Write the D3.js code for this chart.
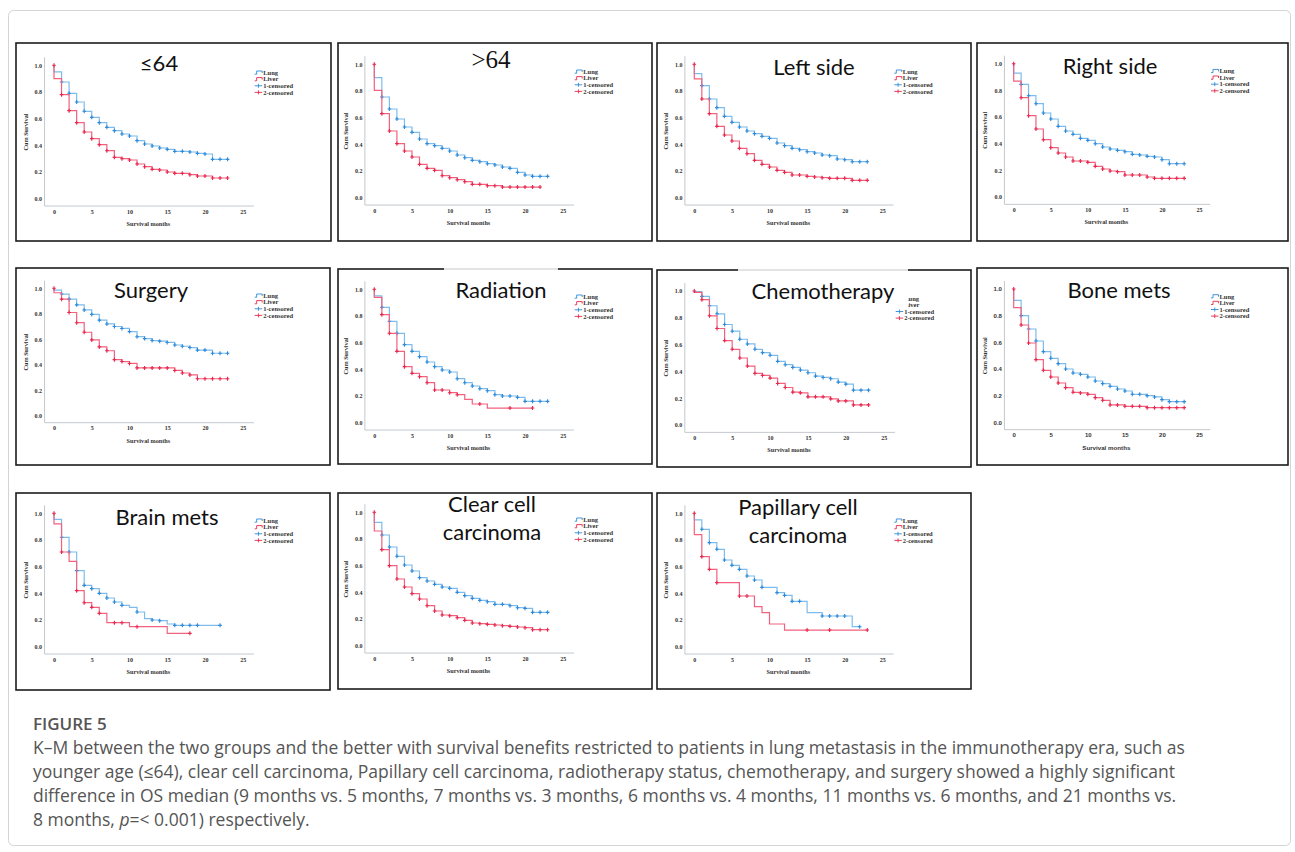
<!DOCTYPE html>
<html>
<head>
<meta charset="utf-8">
<script src="https://cdn.jsdelivr.net/npm/d3@7"></script>
<style>
  body { margin: 0; background: #fff; }
</style>
</head>
<body>
<script>
// survival estimates read per month (index = month), curves start at 1.0
var lungAgeLow = [0.95,0.875,0.79,0.725,0.655,0.61,0.57,0.535,0.51,0.485,0.47,0.435,0.41,0.395,0.38,0.37,0.355,0.355,0.35,0.34,0.335,0.295,0.295,0.295];
var liverAgeLow = [0.90,0.78,0.66,0.57,0.50,0.45,0.405,0.36,0.31,0.30,0.29,0.26,0.24,0.22,0.215,0.20,0.19,0.19,0.18,0.17,0.17,0.155,0.155,0.155];
var lungAgeHigh = [0.90,0.755,0.665,0.59,0.53,0.49,0.44,0.405,0.39,0.37,0.35,0.32,0.30,0.28,0.27,0.255,0.245,0.23,0.22,0.19,0.17,0.16,0.16,0.16];
var liverAgeHigh = [0.805,0.63,0.50,0.405,0.35,0.305,0.25,0.22,0.205,0.165,0.15,0.135,0.12,0.10,0.10,0.09,0.09,0.08,0.08,0.08,0.08,0.08,0.08];
var lungLeft = [0.93,0.84,0.74,0.675,0.61,0.565,0.53,0.50,0.48,0.46,0.445,0.41,0.39,0.37,0.36,0.345,0.335,0.32,0.315,0.29,0.285,0.27,0.27,0.27];
var liverLeft = [0.89,0.74,0.63,0.535,0.47,0.425,0.37,0.33,0.28,0.25,0.23,0.205,0.19,0.17,0.17,0.16,0.155,0.15,0.145,0.145,0.145,0.13,0.13,0.13];
var lungRight = [0.93,0.845,0.76,0.70,0.63,0.585,0.53,0.495,0.47,0.44,0.425,0.40,0.375,0.36,0.35,0.34,0.32,0.315,0.305,0.30,0.28,0.25,0.25,0.25];
var liverRight = [0.87,0.745,0.61,0.51,0.43,0.37,0.33,0.30,0.27,0.27,0.26,0.23,0.21,0.195,0.19,0.165,0.165,0.165,0.15,0.14,0.14,0.14,0.14,0.14];
var lungSurgery = [0.985,0.955,0.915,0.87,0.83,0.795,0.75,0.72,0.70,0.685,0.66,0.62,0.605,0.59,0.585,0.575,0.555,0.545,0.535,0.515,0.515,0.49,0.49,0.49];
var liverSurgery = [0.965,0.915,0.81,0.73,0.655,0.595,0.54,0.51,0.44,0.425,0.41,0.375,0.375,0.375,0.375,0.375,0.355,0.335,0.32,0.29,0.29,0.29,0.29,0.29];
var lungRadiation = [0.95,0.865,0.76,0.67,0.585,0.535,0.495,0.455,0.42,0.395,0.38,0.33,0.30,0.275,0.255,0.24,0.21,0.20,0.20,0.19,0.16,0.16,0.16,0.16];
var liverRadiation = [0.94,0.81,0.67,0.535,0.42,0.37,0.345,0.30,0.245,0.245,0.225,0.21,0.175,0.14,0.14,0.11,0.11,0.11,0.11,0.11,0.11,0.11];
var lungChemo = [0.995,0.96,0.89,0.83,0.75,0.70,0.64,0.605,0.565,0.54,0.52,0.475,0.45,0.43,0.41,0.39,0.365,0.355,0.345,0.32,0.305,0.26,0.26,0.26];
var liverChemo = [0.99,0.935,0.815,0.72,0.63,0.565,0.50,0.44,0.385,0.37,0.35,0.31,0.28,0.245,0.24,0.21,0.21,0.21,0.195,0.18,0.18,0.15,0.15,0.15];
var lungBone = [0.915,0.80,0.70,0.61,0.53,0.48,0.44,0.40,0.37,0.36,0.34,0.31,0.29,0.27,0.25,0.235,0.21,0.21,0.20,0.19,0.17,0.155,0.155,0.155];
var liverBone = [0.86,0.73,0.595,0.47,0.39,0.34,0.295,0.26,0.225,0.22,0.21,0.185,0.165,0.13,0.13,0.12,0.12,0.12,0.11,0.11,0.11,0.11,0.11,0.11];
var lungBrain = [0.955,0.82,0.71,0.57,0.46,0.435,0.40,0.365,0.335,0.31,0.295,0.26,0.21,0.20,0.195,0.17,0.16,0.16,0.16,0.16,0.16,0.16,0.16];
var liverBrain = [0.92,0.71,0.64,0.42,0.33,0.295,0.25,0.18,0.18,0.18,0.15,0.15,0.15,0.15,0.15,0.10,0.10,0.10,0.10];
var lungClear = [0.925,0.83,0.74,0.67,0.605,0.56,0.51,0.485,0.46,0.44,0.43,0.40,0.375,0.355,0.34,0.33,0.31,0.31,0.30,0.285,0.28,0.25,0.25,0.25];
var liverClear = [0.86,0.72,0.60,0.50,0.44,0.39,0.35,0.30,0.26,0.23,0.225,0.21,0.19,0.17,0.165,0.16,0.155,0.15,0.145,0.14,0.135,0.12,0.12,0.12];
var lungPapillary = [0.95,0.88,0.78,0.73,0.65,0.61,0.58,0.53,0.50,0.445,0.445,0.405,0.385,0.34,0.34,0.255,0.255,0.23,0.23,0.23,0.23,0.15,0.15];
var liverPapillary = [0.84,0.675,0.58,0.48,0.48,0.48,0.38,0.38,0.30,0.255,0.17,0.17,0.125,0.125,0.125,0.125,0.125,0.125,0.125,0.125,0.125,0.125,0.125,0.125];

// months with a censor mark, where not every month has one
var censLiverRadiation = [1,2,3,4,5,6,7,8,9,10,11,14,18,21];
var censLungBrain = [1,2,3,4,5,6,7,8,9,11,13,14,16,17,18,19,22];
var censLiverBrain = [1,3,4,5,6,8,9,11,18];
var censLungPapillary = [1,2,3,4,5,6,7,8,9,11,12,13,14,17,18,19,20,22];
var censLiverPapillary = [1,2,3,6,7,15,18,23];

var titles = [["≤64"], [">64"], ["Left side"], ["Right side"], ["Surgery"], ["Radiation"],
  ["Chemotherapy"], ["Bone mets"], ["Brain mets"], ["Clear cell", "carcinoma"], ["Papillary cell", "carcinoma"]];
var xTicks = [0, 5, 10, 15, 20, 25];
var yTicks = [0, 0.2, 0.4, 0.6, 0.8, 1.0];
var legendLabels = ["Lung", "Liver", "1-censored", "2-censored"];
var figureLabel = "FIGURE 5";
var captionLines = [
  "K\u2013M between the two groups and the better with survival benefits restricted to patients in lung metastasis in the immunotherapy era, such as",
  "younger age (\u226464), clear cell carcinoma, Papillary cell carcinoma, radiotherapy status, chemotherapy, and surgery showed a highly significant",
  "difference in OS median (9 months vs. 5 months, 7 months vs. 3 months, 6 months vs. 4 months, 11 months vs. 6 months, and 21 months vs."
];

var series = [
  [lungAgeLow, liverAgeLow, null, null],
  [lungAgeHigh, liverAgeHigh, null, null],
  [lungLeft, liverLeft, null, null],
  [lungRight, liverRight, null, null],
  [lungSurgery, liverSurgery, null, null],
  [lungRadiation, liverRadiation, null, censLiverRadiation],
  [lungChemo, liverChemo, null, null],
  [lungBone, liverBone, null, null],
  [lungBrain, liverBrain, censLungBrain, censLiverBrain],
  [lungClear, liverClear, null, null],
  [lungPapillary, liverPapillary, censLungPapillary, censLiverPapillary]
];

// layout: panel box, pixel of t=0 / t=25, pixel of 1.0 / 0.0, title centre and baselines
var layout = [
  {box: [16, 43, 315, 198], x0: 54, x25: 242.7, y1: 65.3, y0: 198.7, tx: 159, ty: [71.3]},
  {box: [338, 43, 314, 198], x0: 374.3, x25: 562.7, y1: 64.3, y0: 197.7, tx: 491, ty: [68], serif: true},
  {box: [657, 43, 314, 198], x0: 694.3, x25: 882.3, y1: 64.3, y0: 197.7, tx: 814, ty: [75.3]},
  {box: [977, 43, 311, 198], x0: 1013.7, x25: 1199, y1: 63.7, y0: 197, tx: 1110, ty: [74.3]},
  {box: [16, 268, 314, 197], x0: 54, x25: 242.7, y1: 288.3, y0: 415.7, tx: 151, ty: [298.3]},
  {box: [338, 269, 314, 195], x0: 374.3, x25: 562.7, y1: 289.3, y0: 422.7, tx: 501, ty: [298.3], mask: [444, 558, 304]},
  {box: [657, 270, 314, 197], x0: 694.3, x25: 883.7, y1: 291, y0: 425, tx: 823, ty: [299.3], mask: [738, 908, 307]},
  {box: [977, 268, 311, 197], x0: 1013.7, x25: 1199, y1: 289, y0: 422.3, tx: 1119, ty: [297.7], sansAxis: true},
  {box: [16, 493, 314, 197], x0: 54, x25: 242.7, y1: 513.3, y0: 646.7, tx: 167, ty: [525]},
  {box: [338, 493, 314, 196], x0: 374.3, x25: 562.7, y1: 512.3, y0: 645.7, tx: 492, ty: [511.7, 540]},
  {box: [657, 493, 314, 196], x0: 694.3, x25: 882.3, y1: 513.3, y0: 646.7, tx: 798, ty: [515, 543.3]}
];

var lineColors = ["#7dbcec", "#f2627f"];
var markColors = ["#2e8ad8", "#e6284d"];
var smallFont = "'Liberation Serif', 'DejaVu Serif', serif";

var svg = d3.select("body").append("svg")
    .attr("width", 1295)
    .attr("height", 852)
    .attr("font-family", smallFont);

// outer figure frame
svg.append("rect")
    .attr("x", 8.5).attr("y", 10.5)
    .attr("width", 1282).attr("height", 835)
    .attr("rx", 5)
    .attr("fill", "none")
    .attr("stroke", "#d4d4d4");

layout.forEach(function(p, i) { drawPanel(p, series[i], titles[i]); });

function drawPanel(p, curves, title) {
  var g = svg.append("g");
  var x = d3.scaleLinear().domain([0, 25]).range([p.x0, p.x25]);
  var y = d3.scaleLinear().domain([0, 1]).range([p.y0, p.y1]);
  var axFont = p.sansAxis ? "'Liberation Sans', Arial, sans-serif" : smallFont;

  g.append("rect")
      .attr("x", p.box[0]).attr("y", p.box[1])
      .attr("width", p.box[2]).attr("height", p.box[3])
      .attr("fill", "none")
      .attr("stroke", "#1c1c1c")
      .attr("stroke-width", 1.6);

  var ax = x(-1.25), ay = y(-0.055);
  g.append("line")
      .attr("x1", ax).attr("x2", ax)
      .attr("y1", ay).attr("y2", y(1.06))
      .attr("stroke", "#c4c8cc");
  g.append("line")
      .attr("x1", ax).attr("x2", x(26.5))
      .attr("y1", ay).attr("y2", ay)
      .attr("stroke", "#c4c8cc");

  var yAxis = g.append("g")
      .attr("transform", "translate(" + ax + ",0)")
      .call(d3.axisLeft(y).tickValues(yTicks).tickFormat(d3.format(".1f")).tickSize(0).tickPadding(2.5));
  var xAxis = g.append("g")
      .attr("transform", "translate(0," + ay + ")")
      .call(d3.axisBottom(x).tickValues(xTicks).tickSize(0).tickPadding(3.5));
  [yAxis, xAxis].forEach(function(a) {
    a.select(".domain").remove();
    a.attr("font-family", axFont).attr("font-size", 6).attr("font-weight", "bold");
    a.selectAll("text").attr("fill", "#333");
  });

  g.append("text")
      .attr("transform", "translate(" + (ax - 17) + "," + y(0.5) + ") rotate(-90)")
      .attr("text-anchor", "middle")
      .attr("font-size", 6.2)
      .attr("font-weight", "bold")
      .attr("fill", "#333")
      .text("Cum Survival");
  g.append("text")
      .attr("x", x(12.5))
      .attr("y", ay + 20)
      .attr("text-anchor", "middle")
      .attr("font-family", axFont)
      .attr("font-size", 6.2)
      .attr("font-weight", "bold")
      .attr("fill", "#333")
      .text("Survival months");

  // step curves with censor marks
  var line = d3.line()
      .x(function(d) { return x(d[0]); })
      .y(function(d) { return y(d[1]); })
      .curve(d3.curveStepAfter);

  curves.slice(0, 2).forEach(function(vals, k) {
    var pts = [[0, 1.0]].concat(vals.map(function(v, t) { return [t, v]; }));
    g.append("path")
        .attr("d", line(pts))
        .attr("fill", "none")
        .attr("stroke", lineColors[k])
        .attr("stroke-width", 1.2);
    var cens = curves[k + 2];
    var marks = [[0, 1.0]].concat(vals.map(function(v, t) { return [t, v]; })
        .filter(function(d) { return d[0] > 0 && (!cens || cens.indexOf(d[0]) >= 0); }));
    if (k == 0) marks = marks.slice(1);
    g.append("g").selectAll("path")
        .data(marks)
        .enter().append("path")
        .attr("transform", function(d) { return "translate(" + x(d[0]) + "," + y(d[1]) + ")"; })
        .attr("d", "M-1.8,0h3.6M0,-2v4")
        .attr("stroke", markColors[k])
        .attr("stroke-width", 1.1);
  });

  // legend
  var legend = g.append("g")
      .selectAll("g")
      .data(legendLabels)
      .enter().append("g")
      .attr("transform", function(d, i) { return "translate(" + (p.x25 + 12) + "," + (p.y1 + 7.3 + i * 6.6) + ")"; });
  legend.append("path")
      .attr("d", function(d, i) { return i < 2 ? "M0,1.6h2v-3.2h5.5v2" : "M0,0h7.5M3.75,-2v4"; })
      .attr("fill", "none")
      .attr("stroke", function(d, i) { return i % 2 == 0 ? markColors[0] : markColors[1]; })
      .attr("stroke-width", 0.9);
  legend.append("text")
      .attr("x", 8.5)
      .attr("dy", "0.35em")
      .attr("font-size", 6.5)
      .attr("font-weight", "bold")
      .attr("fill", "#333")
      .text(function(d) { return d; });

  // title (some titles sit on a white box that hides part of the frame/legend)
  if (p.mask) {
    g.append("rect")
        .attr("x", p.mask[0]).attr("y", p.box[1] - 1)
        .attr("width", p.mask[1] - p.mask[0])
        .attr("height", p.mask[2] - p.box[1] + 1)
        .attr("fill", "#fff");
    g.append("line")
        .attr("x1", p.mask[0]).attr("x2", p.mask[1])
        .attr("y1", p.box[1]).attr("y2", p.box[1])
        .attr("stroke", "#c8c8c8");
  }
  g.selectAll(".title")
      .data(title)
      .enter().append("text")
      .attr("class", "title")
      .attr("x", p.tx)
      .attr("y", function(d, i) { return p.ty[i]; })
      .attr("text-anchor", "middle")
      .attr("font-family", p.serif ? "'Liberation Serif', serif" : "Lato, 'Open Sans', sans-serif")
      .attr("font-size", p.serif ? 25 : 22)
      .attr("fill", "#111")
      .text(function(d) { return d; });
}

// caption
var cap = svg.append("g")
    .attr("font-family", "'Open Sans', sans-serif")
    .attr("fill", "#555");
cap.append("text")
    .attr("x", 33).attr("y", 730)
    .attr("font-size", 17)
    .attr("font-weight", 600)
    .text(figureLabel);
cap.selectAll(".capline")
    .data(captionLines)
    .enter().append("text")
    .attr("class", "capline")
    .attr("x", 33)
    .attr("y", function(d, i) { return 754 + i * 24; })
    .attr("font-size", 17.5)
    .text(function(d) { return d; });
var last = cap.append("text")
    .attr("x", 33).attr("y", 754 + 3 * 24)
    .attr("font-size", 17.5);
last.append("tspan").text("8 months, ");
last.append("tspan").attr("font-style", "italic").text("p");
last.append("tspan").text("=< 0.001) respectively.");
</script>
</body>
</html>
